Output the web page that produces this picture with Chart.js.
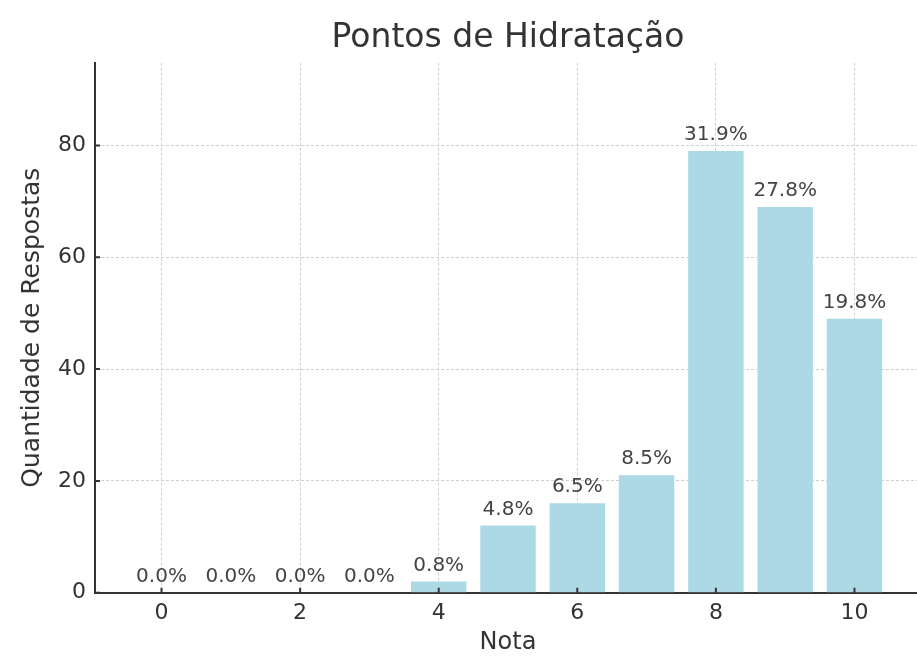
<!DOCTYPE html>
<html lang="pt">
<head>
    <meta charset="UTF-8">
    <title>Pontos de Hidratação</title>
    <script src="https://cdn.jsdelivr.net/npm/chart.js"></script>
    <style>
        html, body { margin: 0; padding: 0; background: #fff; overflow: hidden; }
    </style>
</head>
<body>
    <canvas id="grafico" width="921" height="657"></canvas>
    <script>
        // dados
        const notas = [0, 1, 2, 3, 4, 5, 6, 7, 8, 9, 10];
        const respostas = [0, 0, 0, 0, 2, 12, 16, 21, 79, 69, 49];
        const percentuais = ['0.0%', '0.0%', '0.0%', '0.0%', '0.8%', '4.8%', '6.5%', '8.5%', '31.9%', '27.8%', '19.8%'];
        const ticksX = [0, 2, 4, 6, 8, 10];
        const ticksY = [0, 20, 40, 60, 80];

        const fonte = 'DejaVu Sans';
        const corTexto = '#333';

        // rótulos de porcentagem acima das barras
        const rotulosPlugin = {
            id: 'rotulos',
            afterDraw(chart) {
                const ctx = chart.ctx;
                const meta = chart.getDatasetMeta(0);
                ctx.save();
                ctx.font = '20px "' + fonte + '"';
                ctx.fillStyle = '#444';
                ctx.textAlign = 'center';
                ctx.textBaseline = 'alphabetic';
                meta.data.forEach((bar, i) => {
                    ctx.fillText(percentuais[i], bar.x, bar.y - 11);
                });
                ctx.restore();
            }
        };

        // marcas dos ticks para dentro, como no matplotlib
        const marcasPlugin = {
            id: 'marcas',
            afterDraw(chart) {
                const ctx = chart.ctx;
                const area = chart.chartArea;
                const sx = chart.scales.x, sy = chart.scales.y;
                ctx.save();
                ctx.strokeStyle = corTexto;
                ctx.lineWidth = 2;
                ctx.beginPath();
                ticksX.forEach(v => {
                    const px = sx.getPixelForValue(v);
                    ctx.moveTo(px, area.bottom);
                    ctx.lineTo(px, area.bottom - 5);
                });
                ticksY.forEach(v => {
                    const py = sy.getPixelForValue(v);
                    ctx.moveTo(area.left, py);
                    ctx.lineTo(area.left + 5, py);
                });
                ctx.stroke();
                ctx.restore();
            }
        };

        const ctx = document.getElementById('grafico').getContext('2d');

        new Chart(ctx, {
            type: 'bar',
            data: {
                datasets: [{
                    data: notas.map((n, i) => ({ x: n, y: respostas[i] })),
                    backgroundColor: '#add8e6',
                    borderWidth: 0,
                    barPercentage: 0.8,
                    categoryPercentage: 1
                }]
            },
            options: {
                responsive: false,
                animation: false,
                layout: { padding: 0 },
                plugins: {
                    legend: { display: false },
                    tooltip: { enabled: false },
                    title: {
                        display: true,
                        text: 'Pontos de Hidratação',
                        fullSize: false,
                        color: corTexto,
                        font: { family: fonte, size: 33, weight: 'normal', lineHeight: 1.2 },
                        padding: { top: 18.5, bottom: 4.6 }
                    }
                },
                scales: {
                    x: {
                        type: 'linear',
                        offset: false,
                        min: -0.96,
                        max: 10.96,
                        z: 1,
                        afterBuildTicks: s => { s.ticks = ticksX.map(v => ({ value: v })); },
                        afterFit: s => { s.height = 64.3; },
                        grid: { offset: false, color: '#cfcfcf', lineWidth: 1, drawTicks: false },
                        border: { display: true, color: corTexto, width: 2, dash: [3, 2] },
                        ticks: {
                            color: corTexto,
                            padding: 7,
                            maxRotation: 0,
                            autoSkip: false,
                            font: { family: fonte, size: 22 }
                        },
                        title: {
                            display: true,
                            text: 'Nota',
                            color: corTexto,
                            font: { family: fonte, size: 24, lineHeight: 1 },
                            padding: { top: 0, bottom: 2 }
                        }
                    },
                    y: {
                        min: 0,
                        max: 94.8,
                        z: 1,
                        afterBuildTicks: s => { s.ticks = ticksY.map(v => ({ value: v })); },
                        afterFit: s => { s.width = 95; },
                        grid: { offset: false, color: '#cfcfcf', lineWidth: 1, drawTicks: false },
                        border: { display: true, color: corTexto, width: 2, dash: [3, 2] },
                        ticks: {
                            color: corTexto,
                            padding: 9,
                            font: { family: fonte, size: 22 }
                        },
                        title: {
                            display: true,
                            text: 'Quantidade de Respostas',
                            color: corTexto,
                            font: { family: fonte, size: 25, lineHeight: 1 },
                            padding: { top: 19.5, bottom: 0 }
                        }
                    }
                }
            },
            plugins: [rotulosPlugin, marcasPlugin]
        });
    </script>
</body>
</html>
